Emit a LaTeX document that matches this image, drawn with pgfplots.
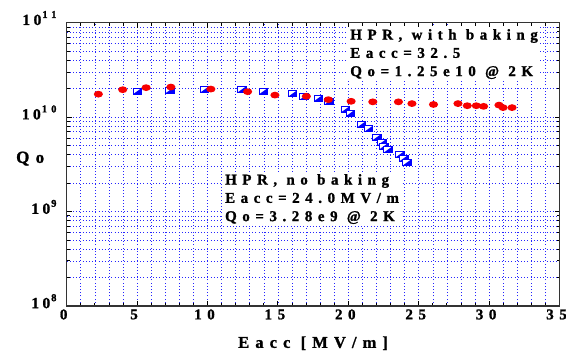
\documentclass[border=0pt]{standalone}
\usepackage{fontspec}
\setmainfont{Liberation Serif}[LetterSpace=37, BoldFeatures={FakeBold=1.2}]
\newfontfamily\plainf{Liberation Serif}[LetterSpace=22, BoldFeatures={FakeBold=1.2}]
\newfontfamily\widef{Liberation Serif}[LetterSpace=40, BoldFeatures={FakeBold=1.2}]
\newcommand{\tlab}[1]{{\plainf\fontsize{15.5}{15.5}\selectfont\bfseries 10}\hspace{1pt}\raisebox{7pt}{\widef\fontsize{10.5}{10.5}\selectfont\bfseries #1}}
\usepackage{pgfplots}
\pgfplotsset{compat=1.18}

\pgfdeclareplotmark{halfsq}{%
  \pgfsetlinewidth{0.8pt}%
  \pgfsetstrokecolor{blue}\pgfsetfillcolor{white}%
  \pgfpathrectangle{\pgfpoint{-4.2pt}{-3pt}}{\pgfpoint{8.4pt}{6pt}}%
  \pgfusepath{fill,stroke}%
  \pgfsetfillcolor{blue}%
  \pgfpathmoveto{\pgfpoint{-4.2pt}{-3pt}}%
  \pgfpathlineto{\pgfpoint{4.2pt}{-3pt}}%
  \pgfpathlineto{\pgfpoint{4.2pt}{3pt}}%
  \pgfpathclose
  \pgfusepath{fill}}
\pgfdeclareplotmark{redell}{%
  \pgfsetfillcolor{red!97!black}%
  \pgfpathellipse{\pgfpointorigin}{\pgfpoint{4.6pt}{0pt}}{\pgfpoint{0pt}{3.4pt}}%
  \pgfusepath{fill}}

\pgfplotstableread{
x y
5.03 1.89e10
7.33 1.93e10
9.77 1.95e10
12.43 1.96e10
13.99 1.89e10
16.05 1.78e10
16.84 1.64e10
17.87 1.59e10
18.61 1.46e10
19.79 1.21e10
20.13 1.10e10
20.91 8.34e9
21.43 7.51e9
22.03 6.13e9
22.40 5.43e9
22.53 4.93e9
22.81 4.52e9
23.66 4.03e9
23.95 3.68e9
24.16 3.30e9
}\nobake
\pgfplotstableread{
x y
2.25 1.75e10
3.98 1.95e10
5.64 2.05e10
7.40 2.08e10
10.24 1.98e10
12.85 1.86e10
14.79 1.71e10
17.02 1.66e10
18.58 1.53e10
20.20 1.47e10
21.74 1.45e10
23.56 1.45e10
24.52 1.39e10
26.05 1.36e10
27.79 1.39e10
28.45 1.32e10
29.09 1.32e10
29.61 1.30e10
30.70 1.34e10
30.99 1.26e10
31.63 1.26e10
}\bake

\begin{document}
\begin{tikzpicture}
\useasboundingbox (-66.7pt,-51pt) rectangle (499.5pt,306pt);
\begin{axis}[
  at={(0,0)}, anchor=south west,
  scale only axis, width=493pt, height=283.3pt,
  xmin=0, xmax=35, ymode=log, ymin=1e8, ymax=1e11,
  xtick={0,5,...,35}, minor x tick num=4,
  ytick={1e8,1e9,1e10,1e11},
  yticklabels={\tlab{8},\tlab{9},\tlab{10},\tlab{11}},
  minor ytick={2e8,3e8,4e8,5e8,6e8,7e8,8e8,9e8,2e9,3e9,4e9,5e9,6e9,7e9,8e9,9e9,2e10,3e10,4e10,5e10,6e10,7e10,8e10,9e10},
  grid=both,
  major grid style={blue!85, line width=0.55pt, dash pattern=on 0.8pt off 2.4pt},
  minor grid style={blue!85, line width=0.55pt, dash pattern=on 0.8pt off 2.4pt},
  tick align=inside, xtick pos=both, ytick pos=both,
  major tick length=5pt, minor tick length=3pt,
  tick style={black, line width=0.8pt},
  axis line style={line width=1.3pt, black!80},
  /pgf/number format/assume math mode=true,
  ticklabel style={font=\fontsize{15}{15}\selectfont\bfseries},
  xticklabel style={xshift=-3pt},
  yticklabel style={anchor=base east, inner xsep=0pt, yshift=-2.3pt, xshift=-10pt},
  xlabel={Eacc [MV/m]},
  xlabel style={font=\fontsize{16.5}{16.5}\selectfont\bfseries, yshift=-10pt},
  clip=false,
]
\addplot[only marks, mark=halfsq] table[x=x,y=y] {\nobake};
\addplot[only marks, mark=redell] table[x=x,y=y] {\bake};
\node[anchor=north west, fill=white, inner xsep=2pt, inner ysep=2pt, align=left,
  font=\fontsize{15}{18.3}\selectfont\bfseries] at (rel axis cs:0.571,0.985)
  {HPR, with baking\\Eacc=32.5\\Qo=1.25e10 @ 2K};
\node[anchor=north west, fill=white, inner xsep=2pt, inner ysep=2pt, align=left,
  font=\fontsize{15}{18.3}\selectfont\bfseries] at (rel axis cs:0.317,0.473)
  {HPR, no baking\\Eacc=24.0MV/m\\Qo=3.28e9 @ 2K};
\node[font=\fontsize{17}{17}\selectfont\bfseries, xshift=-1pt] at (rel axis cs:-0.072,0.52) {Qo};
\end{axis}
\end{tikzpicture}
\end{document}
